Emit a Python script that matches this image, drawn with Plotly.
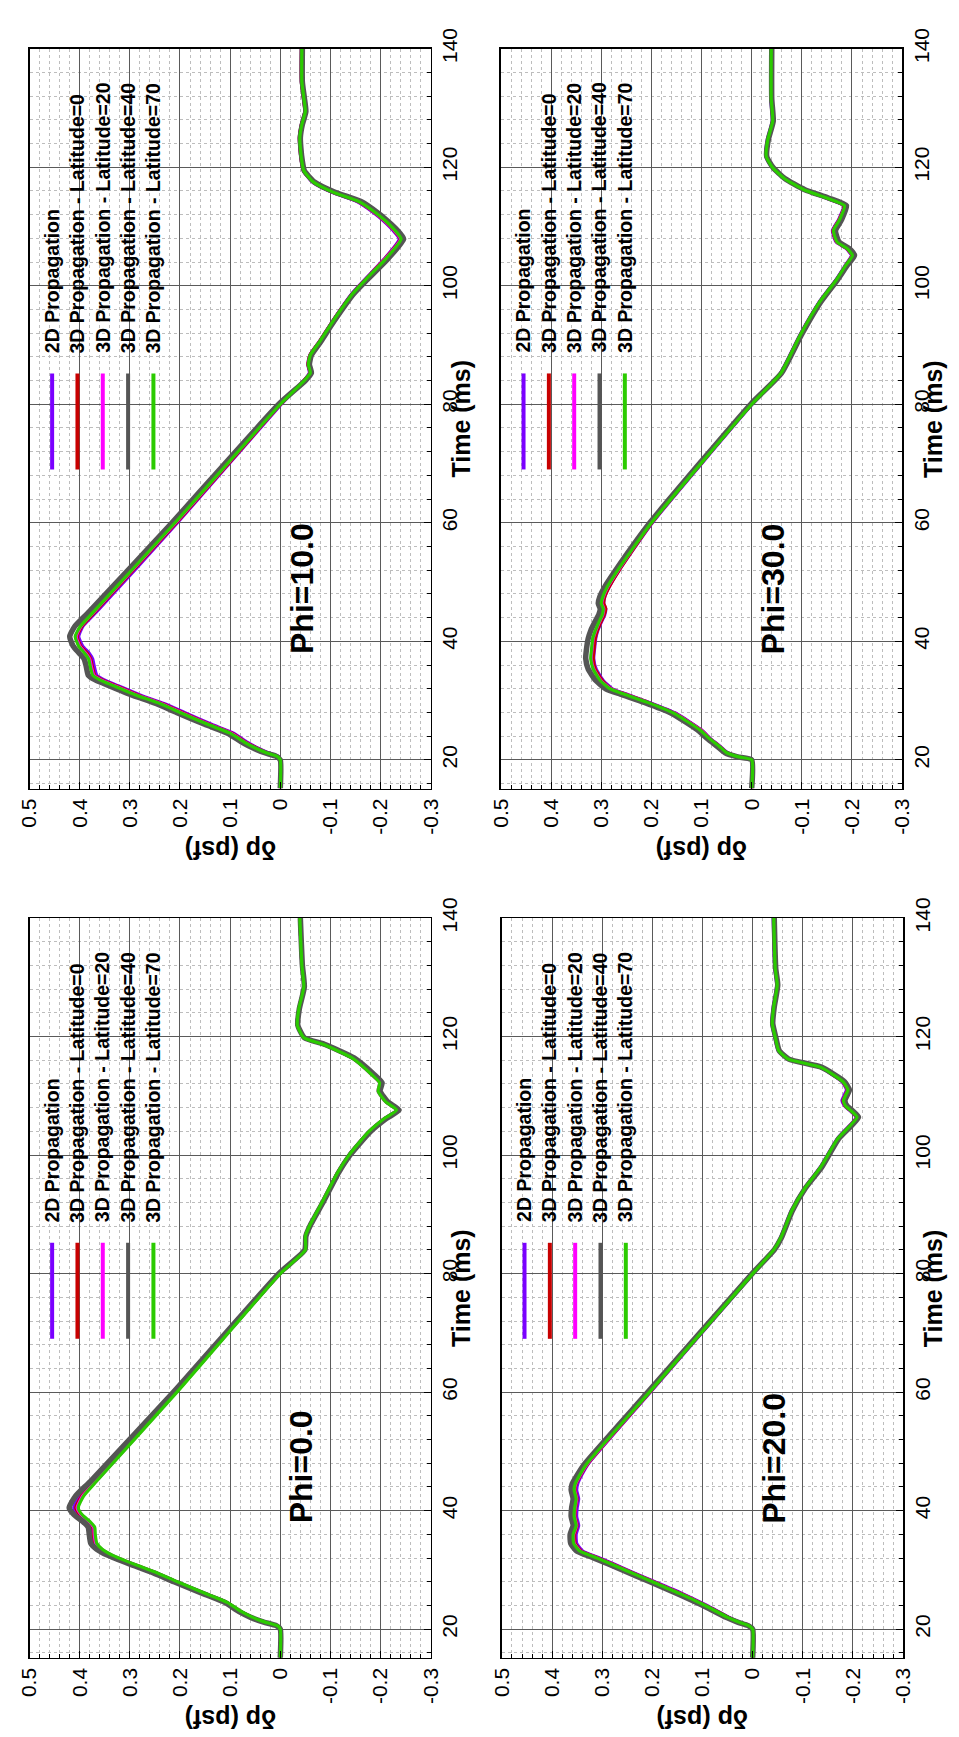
import plotly.graph_objects as go

# ---------------- data ----------------
SERIES_NAMES = ["2D Propagation",
                "3D Propagation - Latitude=0",
                "3D Propagation - Latitude=20",
                "3D Propagation - Latitude=40",
                "3D Propagation - Latitude=70"]
SERIES_COLORS = ["#7a00ff", "#c80000", "#ff00ff", "#555555", "#2bcb00"]
SERIES_WIDTHS = [3.2, 3.2, 3.2, 5.5, 3.2]

DP_TICKS = [0.5, 0.4, 0.3, 0.2, 0.1, 0.0, -0.1, -0.2, -0.3]
DP_TICK_TEXT = ["0.5", "0.4", "0.3", "0.2", "0.1", "0", "-0.1", "-0.2", "-0.3"]
TIME_TICKS = [20, 40, 60, 80, 100, 120, 140]
DP_RANGE = [0.5, -0.3]
TIME_RANGE = [15.15, 140]

# Phi = 10.0
T10 = [15.2, 20.0, 20.6, 21.2, 22.0, 23.0, 24.5, 26.0, 28.0, 29.5, 31.0, 32.5, 33.5, 34.3, 35.8, 37.0,
       38.0, 39.2, 40.8, 42.5, 45.0, 60.0, 80.0, 84.0, 85.3, 86.7, 88.3, 90.6, 94.0, 98.6, 101.0, 104.4,
       107.9, 109.4, 111.0, 112.2, 114.2, 115.8, 117.5, 119.4, 121.0, 123.3, 125.0, 127.2, 129.4, 131.7,
       134.4, 140.0]
P2D_10 = [0, 0, 0.004, 0.024, 0.045, 0.066, 0.093, 0.137, 0.191, 0.232, 0.281, 0.323, 0.351, 0.366, 0.371,
          0.374, 0.381, 0.394, 0.402, 0.394, 0.366, 0.205, -0.002, -0.047, -0.058, -0.055, -0.059, -0.078,
          -0.104, -0.142, -0.168, -0.206, -0.237, -0.224, -0.205, -0.188, -0.153, -0.102, -0.064, -0.046,
          -0.042, -0.039, -0.038, -0.042, -0.049, -0.046, -0.042, -0.042]
L0_10 = [0, 0, 0.005, 0.026, 0.047, 0.069, 0.096, 0.141, 0.195, 0.236, 0.285, 0.327, 0.355, 0.37, 0.375,
         0.378, 0.385, 0.398, 0.405, 0.396, 0.369, 0.207, -0.001, -0.047, -0.059, -0.055, -0.059, -0.078,
         -0.104, -0.143, -0.169, -0.207, -0.239, -0.226, -0.207, -0.19, -0.155, -0.103, -0.065, -0.046,
         -0.042, -0.039, -0.038, -0.042, -0.049, -0.046, -0.042, -0.042]
L20_10 = [0, 0, 0.006, 0.027, 0.049, 0.071, 0.098, 0.143, 0.198, 0.238, 0.288, 0.33, 0.358, 0.372, 0.377,
          0.38, 0.388, 0.4, 0.407, 0.398, 0.371, 0.209, 0.0, -0.048, -0.06, -0.056, -0.06, -0.079,
          -0.105, -0.144, -0.17, -0.208, -0.24, -0.227, -0.208, -0.191, -0.156, -0.104, -0.066, -0.047,
          -0.043, -0.04, -0.039, -0.043, -0.05, -0.047, -0.043, -0.043]
L40_10 = [0, 0, 0.008, 0.031, 0.054, 0.077, 0.105, 0.151, 0.207, 0.248, 0.298, 0.341, 0.369, 0.383, 0.387,
          0.391, 0.401, 0.413, 0.42, 0.41, 0.381, 0.216, 0.003, -0.05, -0.062, -0.058, -0.062, -0.081,
          -0.107, -0.146, -0.173, -0.213, -0.246, -0.233, -0.213, -0.196, -0.161, -0.108, -0.068, -0.048,
          -0.044, -0.041, -0.04, -0.044, -0.051, -0.048, -0.044, -0.044]
L70_10 = [0, 0, 0.006, 0.028, 0.05, 0.072, 0.1, 0.145, 0.2, 0.24, 0.29, 0.332, 0.36, 0.374, 0.379,
          0.382, 0.39, 0.402, 0.409, 0.399, 0.372, 0.21, 0.0, -0.048, -0.06, -0.056, -0.06, -0.079,
          -0.105, -0.144, -0.17, -0.209, -0.241, -0.228, -0.209, -0.192, -0.157, -0.105, -0.066, -0.047,
          -0.043, -0.04, -0.039, -0.043, -0.05, -0.047, -0.043, -0.043]

# Phi = 30.0
T30 = [15.2, 20.0, 20.5, 21.2, 22.3, 23.5, 25.1, 27.9, 29.7, 31.1, 32.0, 33.4, 35.3, 37.1, 39.0, 40.5,
       41.8, 43.2, 44.5, 45.5, 46.4, 47.5, 49.2, 51.9, 60.0, 80.0, 85.2, 91.7, 97.3, 101.0, 103.5, 105.1,
       106.3, 107.4, 109.3, 111.1, 113.5, 114.8, 116.2, 118.1, 119.9, 121.8, 124.6, 127.8, 131.5, 140.0]
P2D_30 = [0, 0, 0.025, 0.048, 0.063, 0.081, 0.101, 0.152, 0.204, 0.25, 0.278, 0.296, 0.31, 0.315, 0.313,
          0.311, 0.307, 0.3, 0.293, 0.291, 0.295, 0.293, 0.284, 0.265, 0.198, -0.001, -0.057, -0.096,
          -0.135, -0.168, -0.187, -0.199, -0.188, -0.168, -0.161, -0.173, -0.183, -0.148, -0.103, -0.064,
          -0.041, -0.028, -0.031, -0.041, -0.038, -0.038]
L0_30 = [0, 0, 0.025, 0.049, 0.064, 0.082, 0.102, 0.154, 0.206, 0.252, 0.28, 0.298, 0.312, 0.316, 0.314,
         0.312, 0.308, 0.301, 0.294, 0.291, 0.295, 0.293, 0.284, 0.265, 0.199, 0.0, -0.058, -0.097,
         -0.136, -0.169, -0.188, -0.2, -0.189, -0.169, -0.162, -0.174, -0.184, -0.149, -0.104, -0.065,
         -0.042, -0.029, -0.032, -0.042, -0.039, -0.039]
L20_30 = [0, 0, 0.026, 0.05, 0.065, 0.083, 0.103, 0.155, 0.207, 0.254, 0.282, 0.301, 0.315, 0.32, 0.318,
          0.316, 0.311, 0.304, 0.297, 0.295, 0.299, 0.296, 0.287, 0.267, 0.2, 0.0, -0.058, -0.097,
          -0.136, -0.169, -0.188, -0.201, -0.19, -0.17, -0.163, -0.175, -0.185, -0.15, -0.104, -0.065,
          -0.042, -0.029, -0.032, -0.042, -0.039, -0.039]
L40_30 = [0, 0, 0.028, 0.053, 0.069, 0.087, 0.109, 0.161, 0.214, 0.262, 0.291, 0.311, 0.326, 0.331, 0.329,
          0.326, 0.321, 0.313, 0.305, 0.302, 0.306, 0.303, 0.293, 0.272, 0.203, 0.002, -0.059, -0.099,
          -0.138, -0.171, -0.191, -0.205, -0.194, -0.174, -0.167, -0.179, -0.189, -0.153, -0.106, -0.066,
          -0.043, -0.03, -0.033, -0.043, -0.04, -0.04]
L70_30 = [0, 0, 0.026, 0.05, 0.065, 0.083, 0.104, 0.156, 0.208, 0.255, 0.283, 0.302, 0.316, 0.321, 0.319,
          0.317, 0.312, 0.305, 0.298, 0.296, 0.3, 0.297, 0.288, 0.268, 0.2, 0.0, -0.058, -0.097,
          -0.136, -0.169, -0.188, -0.201, -0.19, -0.17, -0.163, -0.175, -0.185, -0.15, -0.104, -0.065,
          -0.042, -0.029, -0.032, -0.042, -0.039, -0.039]

# Phi = 0.0
T0 = [15.2, 20.0, 20.6, 21.2, 22.0, 23.0, 24.5, 26.0, 28.0, 29.5, 31.0, 32.5, 33.5, 34.5, 36.0, 37.2,
      38.2, 39.3, 40.5, 42.5, 45.0, 60.0, 80.0, 84.0, 86.3, 88.0, 92.3, 97.0, 100.0, 103.9, 106.2, 107.6,
      109.0, 110.8, 112.2, 113.6, 116.4, 118.7, 119.8, 121.9, 124.7, 128.4, 132.1, 140.0]
P2D_0 = [0, 0, 0.007, 0.031, 0.057, 0.08, 0.107, 0.151, 0.208, 0.249, 0.296, 0.34, 0.361, 0.373, 0.376,
         0.377, 0.388, 0.404, 0.412, 0.4, 0.371, 0.209, 0.001, -0.049, -0.05, -0.058, -0.086, -0.115,
         -0.138, -0.177, -0.21, -0.234, -0.212, -0.197, -0.2, -0.184, -0.145, -0.086, -0.047, -0.034,
         -0.037, -0.047, -0.043, -0.039]
L0_0 = [0, 0, 0.007, 0.031, 0.056, 0.079, 0.106, 0.15, 0.207, 0.247, 0.294, 0.338, 0.358, 0.37, 0.373,
        0.374, 0.384, 0.4, 0.408, 0.396, 0.369, 0.208, 0.001, -0.049, -0.05, -0.058, -0.085, -0.114,
        -0.137, -0.177, -0.209, -0.233, -0.211, -0.196, -0.199, -0.183, -0.144, -0.085, -0.047, -0.034,
        -0.037, -0.047, -0.043, -0.039]
L20_0 = [0, 0, 0.006, 0.03, 0.056, 0.079, 0.106, 0.149, 0.206, 0.246, 0.293, 0.336, 0.356, 0.368, 0.371,
         0.372, 0.382, 0.397, 0.405, 0.394, 0.367, 0.207, 0.0, -0.05, -0.05, -0.058, -0.085, -0.114,
         -0.137, -0.176, -0.208, -0.232, -0.21, -0.195, -0.198, -0.182, -0.143, -0.085, -0.047, -0.034,
         -0.037, -0.047, -0.043, -0.039]
L40_0 = [0, 0, 0.008, 0.033, 0.059, 0.083, 0.11, 0.154, 0.212, 0.253, 0.301, 0.345, 0.366, 0.378, 0.381,
         0.383, 0.394, 0.411, 0.421, 0.408, 0.378, 0.213, 0.003, -0.049, -0.051, -0.059, -0.087, -0.116,
         -0.139, -0.179, -0.212, -0.237, -0.214, -0.199, -0.203, -0.187, -0.147, -0.088, -0.048, -0.035,
         -0.038, -0.048, -0.044, -0.04]
L70_0 = [0, 0, 0.006, 0.03, 0.055, 0.078, 0.105, 0.148, 0.205, 0.245, 0.292, 0.335, 0.355, 0.366, 0.369,
         0.37, 0.38, 0.395, 0.403, 0.392, 0.366, 0.206, 0.0, -0.05, -0.05, -0.058, -0.085, -0.114,
         -0.137, -0.176, -0.208, -0.232, -0.21, -0.195, -0.198, -0.182, -0.143, -0.085, -0.047, -0.034,
         -0.037, -0.047, -0.043, -0.039]

# Phi = 20.0
T20 = [15.2, 20.0, 20.6, 21.2, 22.0, 24.0, 26.0, 28.0, 30.0, 32.0, 33.2, 34.5, 36.0, 37.5, 39.0, 40.5,
       42.0, 43.5, 44.5, 46.0, 48.0, 60.0, 80.0, 84.0, 86.0, 90.6, 94.4, 98.0, 102.7, 106.4, 107.5, 108.3,
       109.2, 110.2, 111.0, 112.4, 114.8, 116.2, 117.6, 119.9, 122.2, 125.0, 128.7, 131.5, 140.0]
P2D_20 = [0, 0, 0.007, 0.026, 0.047, 0.091, 0.14, 0.195, 0.25, 0.304, 0.339, 0.351, 0.352, 0.347, 0.351,
          0.35, 0.347, 0.351, 0.349, 0.341, 0.327, 0.204, -0.001, -0.042, -0.055, -0.077, -0.103, -0.135,
          -0.168, -0.206, -0.194, -0.183, -0.178, -0.183, -0.187, -0.178, -0.134, -0.07, -0.051, -0.044,
          -0.038, -0.041, -0.048, -0.044, -0.041]
L0_20 = [0, 0, 0.007, 0.027, 0.048, 0.093, 0.142, 0.197, 0.252, 0.307, 0.342, 0.354, 0.355, 0.35, 0.354,
         0.353, 0.35, 0.354, 0.352, 0.343, 0.328, 0.205, 0.0, -0.042, -0.056, -0.078, -0.104, -0.136,
         -0.169, -0.207, -0.195, -0.184, -0.18, -0.185, -0.189, -0.179, -0.135, -0.071, -0.052, -0.045,
         -0.039, -0.042, -0.049, -0.045, -0.042]
L20_20 = [0, 0, 0.008, 0.028, 0.05, 0.094, 0.144, 0.199, 0.254, 0.309, 0.344, 0.356, 0.357, 0.351, 0.355,
          0.354, 0.351, 0.355, 0.353, 0.344, 0.329, 0.206, 0.0, -0.042, -0.056, -0.078, -0.104, -0.136,
          -0.169, -0.208, -0.196, -0.185, -0.181, -0.186, -0.19, -0.18, -0.136, -0.071, -0.052, -0.045,
          -0.039, -0.042, -0.049, -0.045, -0.042]
L40_20 = [0, 0, 0.009, 0.03, 0.053, 0.099, 0.15, 0.205, 0.26, 0.316, 0.351, 0.363, 0.364, 0.358, 0.362,
          0.361, 0.358, 0.362, 0.36, 0.35, 0.334, 0.209, 0.001, -0.043, -0.057, -0.079, -0.105, -0.138,
          -0.171, -0.211, -0.199, -0.188, -0.184, -0.189, -0.193, -0.183, -0.138, -0.072, -0.053, -0.046,
          -0.04, -0.043, -0.05, -0.046, -0.043]
L70_20 = [0, 0, 0.008, 0.028, 0.05, 0.095, 0.145, 0.2, 0.255, 0.31, 0.345, 0.357, 0.358, 0.352, 0.356,
          0.355, 0.352, 0.356, 0.354, 0.345, 0.33, 0.206, 0.0, -0.042, -0.056, -0.078, -0.104, -0.136,
          -0.169, -0.208, -0.196, -0.185, -0.181, -0.186, -0.19, -0.18, -0.136, -0.071, -0.052, -0.045,
          -0.039, -0.042, -0.049, -0.045, -0.042]

PANEL_LABELS = ["Phi=10.0", "Phi=30.0", "Phi=0.0", "Phi=20.0"]
PANEL_TIMES = [T10, T30, T0, T20]
PANEL_SERIES = [[P2D_10, L0_10, L20_10, L40_10, L70_10],
                [P2D_30, L0_30, L20_30, L40_30, L70_30],
                [P2D_0, L0_0, L20_0, L40_0, L70_0],
                [P2D_20, L0_20, L20_20, L40_20, L70_20]]

# ---------------- layout (pixels) ----------------
W, H = 959, 1737
BOXES = [(18, 28, 429, 777), (501, 28, 912, 777), (18, 908, 429, 1657), (502, 908, 913, 1657)]
FONT = "Liberation Sans, Arial, Helvetica, sans-serif"

LEG_DP0, LEG_DDP = 0.455, 0.0505
LEG_T0, LEG_T1, LEG_TXT = 69.0, 85.2, 88.3
PHI_DP, PHI_T = -0.042, 37.5

fig = go.Figure()
annotations = []
shapes = []
layout = {}

for i, (box, label, T, series) in enumerate(zip(BOXES, PANEL_LABELS, PANEL_TIMES, PANEL_SERIES)):
    n = i + 1
    xa = "x" if n == 1 else f"x{n}"
    ya = "y" if n == 1 else f"y{n}"
    x0, y0, x1, y1 = box
    for name, vals, col, w in zip(SERIES_NAMES, series, SERIES_COLORS, SERIES_WIDTHS):
        fig.add_trace(go.Scatter(x=vals, y=T, mode="lines", name=name, showlegend=False,
                                 line=dict(color=col, width=w, shape="spline", smoothing=0.5),
                                 xaxis=xa, yaxis=ya, hoverinfo="skip"))
    common = dict(showline=True, linecolor="black", linewidth=1.5, mirror=True,
                  ticks="inside", ticklen=7, tickcolor="black", tickwidth=1,
                  showgrid=True, gridcolor="#5a5a5a", gridwidth=1, zeroline=False,
                  tickfont=dict(family=FONT, size=21, color="black"), tickangle=-90)
    layout["xaxis" if n == 1 else f"xaxis{n}"] = dict(
        domain=[x0 / W, x1 / W], range=DP_RANGE, anchor=ya, side="bottom",
        tickmode="array", tickvals=DP_TICKS, ticktext=DP_TICK_TEXT,
        minor=dict(tickmode="linear", tick0=0, dtick=0.02, showgrid=True, gridcolor="#bdbdbd",
                   griddash="dot", gridwidth=1, ticks="inside", ticklen=4, tickcolor="black"),
        **common)
    layout["yaxis" if n == 1 else f"yaxis{n}"] = dict(
        domain=[1 - y1 / H, 1 - y0 / H], range=TIME_RANGE, anchor=xa, side="right",
        tickmode="array", tickvals=TIME_TICKS,
        minor=dict(tickmode="linear", tick0=0, dtick=4, showgrid=True, gridcolor="#bdbdbd",
                   griddash="dot", gridwidth=1, ticks="inside", ticklen=4, tickcolor="black"),
        **common)

    # rotated legend
    for k, (name, col) in enumerate(zip(SERIES_NAMES, SERIES_COLORS)):
        dpk = LEG_DP0 - LEG_DDP * k
        shapes.append(dict(type="line", xref=xa, yref=ya, x0=dpk, x1=dpk, y0=LEG_T0, y1=LEG_T1,
                           line=dict(color=col, width=4)))
        annotations.append(dict(xref=xa, yref=ya, x=dpk, y=LEG_TXT, text=name, showarrow=False,
                                textangle=-90, xanchor="center", yanchor="bottom",
                                font=dict(family=FONT, size=19.5, color="black", weight="bold")))
    # panel label
    annotations.append(dict(xref=xa, yref=ya, x=PHI_DP, y=PHI_T, text=label, showarrow=False,
                            textangle=-90, xanchor="center", yanchor="bottom",
                            font=dict(family=FONT, size=32, color="black", weight="bold")))
    # axis titles
    annotations.append(dict(xref="paper", yref="paper", x=(x1 + 31) / W, y=1 - (y0 + y1) / 2 / H,
                            text="Time (ms)", showarrow=False, textangle=-90,
                            xanchor="center", yanchor="middle",
                            font=dict(family=FONT, size=25, color="black", weight="bold")))
    annotations.append(dict(xref="paper", yref="paper", x=(x0 + x1) / 2 / W, y=1 - (y1 + 62) / H,
                            text="δp (psf)", showarrow=False, textangle=180,
                            xanchor="center", yanchor="middle",
                            font=dict(family=FONT, size=25, color="black", weight="bold")))

fig.update_layout(width=W, height=H, autosize=False, margin=dict(l=0, r=0, t=0, b=0),
                  paper_bgcolor="white", plot_bgcolor="white", showlegend=False,
                  hovermode=False, annotations=annotations, shapes=shapes, **layout)

fig.write_html("out.html", config={"displayModeBar": False, "staticPlot": True},
               post_script="document.body.style.margin='0';document.body.style.overflow='hidden';")
